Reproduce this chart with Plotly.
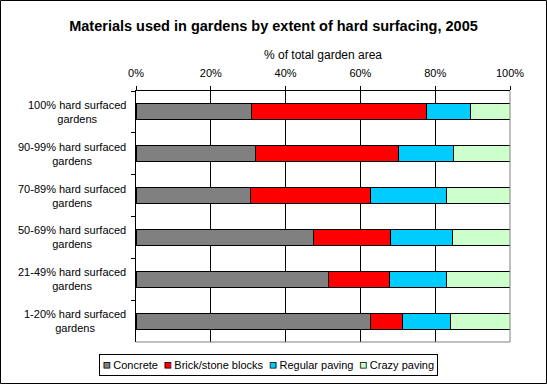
import plotly.graph_objects as go

# ---- data ----
categories = [
    "100% hard surfaced gardens",
    "90-99% hard surfaced gardens",
    "70-89% hard surfaced gardens",
    "50-69% hard surfaced gardens",
    "21-49% hard surfaced gardens",
    "1-20% hard surfaced gardens",
]
concrete = [30.9, 32.0, 30.7, 47.5, 51.6, 62.8]
brick = [46.8, 38.1, 32.1, 20.6, 16.3, 8.5]
regular = [11.8, 14.9, 20.3, 16.4, 15.2, 12.7]
crazy = [10.5, 15.0, 16.9, 15.5, 16.9, 16.0]

series_names = ["Concrete", "Brick/stone blocks", "Regular paving", "Crazy paving"]
series_values = [concrete, brick, regular, crazy]
colors = ["#808080", "#FF0000", "#00CCFF", "#CCFFCC"]

x_ticks = [0, 20, 40, 60, 80, 100]

title_text = "Materials used in gardens by extent of hard surfacing, 2005"
x_title = "% of total garden area"

# ---- layout geometry ----
W, H = 547, 384
ml, mr, mt, mb = 136, 37, 91, 42
pw, ph = W - ml - mr, H - mt - mb
FONT = "Liberation Sans, Arial, sans-serif"

fig = go.Figure()
for name, vals, col in zip(series_names, series_values, colors):
    fig.add_trace(go.Bar(
        y=categories, x=vals, name=name, orientation="h",
        marker=dict(color=col, line=dict(color="#000000", width=1)),
        showlegend=False, hoverinfo="x+name",
    ))

fig.update_layout(
    width=W, height=H,
    margin=dict(l=ml, r=mr, t=mt, b=mb, pad=0),
    barmode="stack", bargap=0.62,
    paper_bgcolor="white", plot_bgcolor="white",
    font=dict(family=FONT, size=11, color="#000000"),
    title=dict(text="<b>" + title_text + "</b>", x=0.5, xref="container",
               y=1 - 26 / H, yref="container", yanchor="middle", xanchor="center",
               font=dict(size=14.5, family=FONT, color="#000")),
    xaxis=dict(
        side="top", range=[0, 100], tickvals=x_ticks,
        ticktext=[f"{v}%" for v in x_ticks],
        showgrid=True, gridcolor="#000000", gridwidth=1,
        showline=True, linecolor="#000000", linewidth=1,
        ticks="outside", ticklen=4, tickcolor="#000000",
        tickfont=dict(size=11), zeroline=False, ticklabelstandoff=5,
        title=dict(text=x_title, font=dict(size=12), standoff=4),
        fixedrange=True,
    ),
    yaxis=dict(
        autorange="reversed", type="category",
        showline=True, linecolor="#000000", linewidth=1,
        ticks="outside", ticklen=4, tickcolor="#000000",
        tickson="boundaries", showticklabels=False,
        showgrid=False, zeroline=False, fixedrange=True,
    ),
)

# category labels, centred multi-line
for c in categories:
    fig.add_annotation(
        xref="paper", yref="y", x=0, y=c, xanchor="right", yanchor="middle",
        xshift=-8, yshift=0, align="center", showarrow=False,
        text=c.replace(" gardens", "<br>gardens"), font=dict(size=11),
    )

# legend drawn as a boxed text line
nb = "\u00a0"
parts = []
for name, col in zip(series_names, colors):
    parts.append(
        f"<span style='color:{col};stroke:#000000;stroke-width:0.8px;font-size:12px'>\u25A0</span>"
        + nb + name
    )
legend_text = (nb * 2).join(parts)
leg_cx, leg_cy = 268, 365
fig.add_annotation(
    xref="paper", yref="paper",
    x=(leg_cx - ml) / pw, y=-(leg_cy - (H - mb)) / ph,
    xanchor="center", yanchor="middle", showarrow=False,
    text=legend_text, font=dict(size=11),
    bordercolor="#000000", borderwidth=1, borderpad=3, bgcolor="white",
)

# plot-area right/bottom border (grey) and outer chart border
fig.add_shape(type="line", xref="paper", yref="paper", x0=1, x1=1, y0=0, y1=1,
              line=dict(color="#808080", width=1), layer="above")
fig.add_shape(type="line", xref="paper", yref="paper", x0=0, x1=1, y0=0, y1=0,
              line=dict(color="#808080", width=1), layer="above")
fig.add_shape(type="rect", xref="paper", yref="paper",
              x0=-(ml - 0.5) / pw, x1=1 + (mr - 0.5) / pw,
              y0=-(mb - 0.5) / ph, y1=1 + (mt - 0.5) / ph,
              line=dict(color="#000000", width=1), layer="above")

fig.write_html(
    "out.html",
    config={"displayModeBar": False},
    post_script="document.body.style.margin='0';document.body.style.overflow='hidden';",
)
